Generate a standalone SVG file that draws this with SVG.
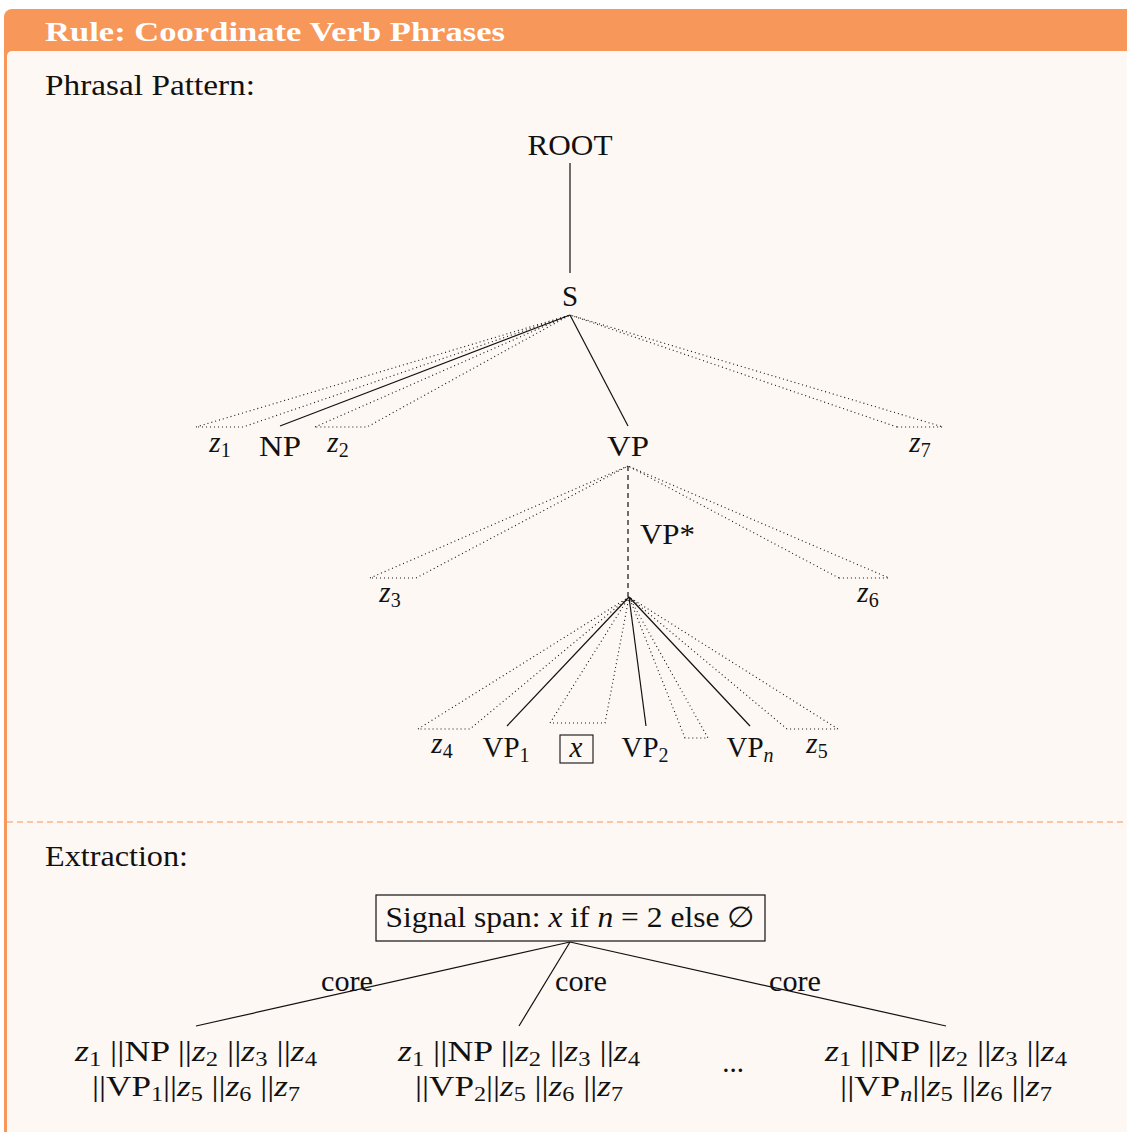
<svg xmlns="http://www.w3.org/2000/svg" width="1127" height="1132" viewBox="0 0 1127 1132">
<style>
text{font-family:"Liberation Serif","DejaVu Serif",serif;fill:#111;font-size:29px}
.it{font-style:italic}
.sub{font-size:20px}
.title{font-weight:bold;fill:#fff;font-size:27px}
.solid{stroke:#111;stroke-width:1.2;fill:none}
.dot{stroke:#111;stroke-width:1.1;fill:none;stroke-dasharray:1 3}
.dash{stroke:#111;stroke-width:1.2;fill:none;stroke-dasharray:5 4}
</style>
<rect width="1127" height="1132" fill="#ffffff"/>
<g id="frame">
<rect x="4" y="9" width="1140" height="1132" rx="8" fill="#f7975a"/>
<rect x="7" y="51" width="1137" height="1086" rx="5" fill="#fdf8f4"/>
<rect x="30" y="51" width="1110" height="10" fill="#fdf8f4"/>
<line x1="7" y1="822" x2="1127" y2="822" stroke="#f9b38a" stroke-width="1.3" stroke-dasharray="6 4"/>
<text class="title" x="45" y="41" textLength="460" lengthAdjust="spacingAndGlyphs">Rule: Coordinate Verb Phrases</text>
<text x="45" y="95" textLength="210" lengthAdjust="spacingAndGlyphs">Phrasal Pattern:</text>
<text x="45" y="866" textLength="143" lengthAdjust="spacingAndGlyphs">Extraction:</text>
</g>
<g id="connectors">
<line class="solid" x1="570" y1="163" x2="570" y2="273"/>
<path class="dot" d="M196 427 L570 315 L243 427 Z"/>
<path class="dot" d="M315 427 L570 315 L367 427 Z"/>
<path class="dot" d="M897 427 L570 315 L943 427 Z"/>
<line class="solid" x1="570" y1="315" x2="280" y2="426"/>
<line class="solid" x1="570" y1="315" x2="628" y2="426"/>
<path class="dot" d="M370 578 L628 466 L416 578 Z"/>
<path class="dot" d="M839 578 L628 466 L889 578 Z"/>
<line class="dash" x1="628" y1="466" x2="628" y2="597"/>
<path class="dot" d="M418 729 L629 597 L470 729 Z"/>
<path class="dot" d="M550 723 L629 597 L605 723 Z"/>
<path class="dot" d="M685 738 L629 597 L708 738 Z"/>
<path class="dot" d="M787 729 L629 597 L838 729 Z"/>
<line class="solid" x1="629" y1="597" x2="507" y2="726"/>
<line class="solid" x1="629" y1="597" x2="646" y2="726"/>
<line class="solid" x1="629" y1="597" x2="750" y2="726"/>
<line class="solid" x1="570" y1="942" x2="196" y2="1026"/>
<line class="solid" x1="570" y1="942" x2="519" y2="1026"/>
<line class="solid" x1="570" y1="942" x2="946" y2="1026"/>
<text x="347" y="991" text-anchor="middle" textLength="52" lengthAdjust="spacingAndGlyphs">core</text>
<text x="581" y="991" text-anchor="middle" textLength="52" lengthAdjust="spacingAndGlyphs">core</text>
<text x="795" y="991" text-anchor="middle" textLength="52" lengthAdjust="spacingAndGlyphs">core</text>
</g>
<g id="n-root"><text x="570" y="155" text-anchor="middle" textLength="85" lengthAdjust="spacingAndGlyphs">ROOT</text></g>
<g id="n-s"><text x="570" y="306" text-anchor="middle">S</text></g>
<g id="n-z1"><text x="220" y="452" text-anchor="middle"><tspan class="it">z</tspan><tspan class="sub" dy="5">1</tspan></text></g>
<g id="n-np"><text x="280" y="456" text-anchor="middle" textLength="42" lengthAdjust="spacingAndGlyphs">NP</text></g>
<g id="n-z2"><text x="338" y="452" text-anchor="middle"><tspan class="it">z</tspan><tspan class="sub" dy="5">2</tspan></text></g>
<g id="n-vp"><text x="628" y="456" text-anchor="middle" textLength="42" lengthAdjust="spacingAndGlyphs">VP</text></g>
<g id="n-z7"><text x="920" y="452" text-anchor="middle"><tspan class="it">z</tspan><tspan class="sub" dy="5">7</tspan></text></g>
<g id="n-vpstar"><text x="640" y="544" textLength="55" lengthAdjust="spacingAndGlyphs">VP*</text></g>
<g id="n-z3"><text x="390" y="602" text-anchor="middle"><tspan class="it">z</tspan><tspan class="sub" dy="5">3</tspan></text></g>
<g id="n-z6"><text x="868" y="602" text-anchor="middle"><tspan class="it">z</tspan><tspan class="sub" dy="5">6</tspan></text></g>
<g id="n-z4"><text x="442" y="753" text-anchor="middle"><tspan class="it">z</tspan><tspan class="sub" dy="5">4</tspan></text></g>
<g id="n-vp1"><text x="506" y="757" text-anchor="middle">VP<tspan class="sub" dy="5">1</tspan></text></g>
<g id="n-x"><rect x="560" y="735" width="33" height="28" fill="none" stroke="#111" stroke-width="1.1"/><text class="it" x="576" y="757" text-anchor="middle">x</text></g>
<g id="n-vp2"><text x="645" y="757" text-anchor="middle">VP<tspan class="sub" dy="5">2</tspan></text></g>
<g id="n-vpn"><text x="750" y="757" text-anchor="middle">VP<tspan class="sub it" dy="5">n</tspan></text></g>
<g id="n-z5"><text x="817" y="753" text-anchor="middle"><tspan class="it">z</tspan><tspan class="sub" dy="5">5</tspan></text></g>
<g id="n-signal"><rect x="376" y="895" width="389" height="46" fill="none" stroke="#111" stroke-width="1.2"/><text x="570" y="927" text-anchor="middle" textLength="369" lengthAdjust="spacingAndGlyphs">Signal span: <tspan class="it">x</tspan> if <tspan class="it">n</tspan> = 2 else ∅</text></g>
<g id="n-out1">
<text x="196" y="1061" text-anchor="middle" textLength="242" lengthAdjust="spacingAndGlyphs"><tspan class="it">z</tspan><tspan class="sub" dy="5">1</tspan><tspan dy="-5"> ||NP ||</tspan><tspan class="it">z</tspan><tspan class="sub" dy="5">2</tspan><tspan dy="-5"> ||</tspan><tspan class="it">z</tspan><tspan class="sub" dy="5">3</tspan><tspan dy="-5"> ||</tspan><tspan class="it">z</tspan><tspan class="sub" dy="5">4</tspan></text>
<text x="196" y="1096" text-anchor="middle" textLength="208" lengthAdjust="spacingAndGlyphs">||VP<tspan class="sub" dy="5">1</tspan><tspan dy="-5">||</tspan><tspan class="it">z</tspan><tspan class="sub" dy="5">5</tspan><tspan dy="-5"> ||</tspan><tspan class="it">z</tspan><tspan class="sub" dy="5">6</tspan><tspan dy="-5"> ||</tspan><tspan class="it">z</tspan><tspan class="sub" dy="5">7</tspan></text>
</g>
<g id="n-out2">
<text x="519" y="1061" text-anchor="middle" textLength="242" lengthAdjust="spacingAndGlyphs"><tspan class="it">z</tspan><tspan class="sub" dy="5">1</tspan><tspan dy="-5"> ||NP ||</tspan><tspan class="it">z</tspan><tspan class="sub" dy="5">2</tspan><tspan dy="-5"> ||</tspan><tspan class="it">z</tspan><tspan class="sub" dy="5">3</tspan><tspan dy="-5"> ||</tspan><tspan class="it">z</tspan><tspan class="sub" dy="5">4</tspan></text>
<text x="519" y="1096" text-anchor="middle" textLength="208" lengthAdjust="spacingAndGlyphs">||VP<tspan class="sub" dy="5">2</tspan><tspan dy="-5">||</tspan><tspan class="it">z</tspan><tspan class="sub" dy="5">5</tspan><tspan dy="-5"> ||</tspan><tspan class="it">z</tspan><tspan class="sub" dy="5">6</tspan><tspan dy="-5"> ||</tspan><tspan class="it">z</tspan><tspan class="sub" dy="5">7</tspan></text>
</g>
<g id="n-dots"><text x="733" y="1072" text-anchor="middle">...</text></g>
<g id="n-out3">
<text x="946" y="1061" text-anchor="middle" textLength="242" lengthAdjust="spacingAndGlyphs"><tspan class="it">z</tspan><tspan class="sub" dy="5">1</tspan><tspan dy="-5"> ||NP ||</tspan><tspan class="it">z</tspan><tspan class="sub" dy="5">2</tspan><tspan dy="-5"> ||</tspan><tspan class="it">z</tspan><tspan class="sub" dy="5">3</tspan><tspan dy="-5"> ||</tspan><tspan class="it">z</tspan><tspan class="sub" dy="5">4</tspan></text>
<text x="946" y="1096" text-anchor="middle" textLength="212" lengthAdjust="spacingAndGlyphs">||VP<tspan class="sub it" dy="5">n</tspan><tspan dy="-5">||</tspan><tspan class="it">z</tspan><tspan class="sub" dy="5">5</tspan><tspan dy="-5"> ||</tspan><tspan class="it">z</tspan><tspan class="sub" dy="5">6</tspan><tspan dy="-5"> ||</tspan><tspan class="it">z</tspan><tspan class="sub" dy="5">7</tspan></text>
</g>
</svg>
